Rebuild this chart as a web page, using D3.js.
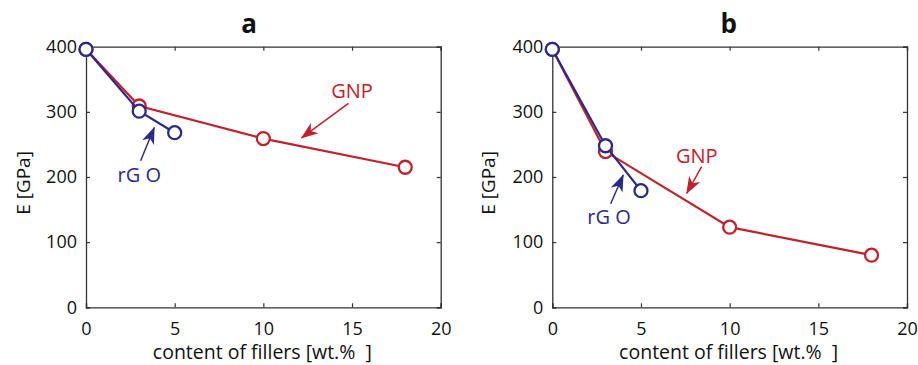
<!DOCTYPE html>
<html>
<head>
<meta charset="utf-8">
<script src="https://cdn.jsdelivr.net/npm/d3@7"></script>
<style>
  html, body { margin: 0; padding: 0; background: #fff; }
  svg { display: block; }
  text { font-family: "Open Sans", "Noto Sans", sans-serif; }
</style>
</head>
<body>
<svg id="chart" width="918" height="365"></svg>
<script>
// Filler content (wt.%) and Young's modulus E (GPa)
const gnpContent = [0, 3, 10, 18];
const rgoContent = [0, 3, 5];

const gnpModulusA = [396, 309, 259, 215];
const rgoModulusA = [396, 301, 268];

const gnpModulusB = [396, 239, 123, 80];
const rgoModulusB = [396, 248, 179];

const panelTitles = ["a", "b"];
const xTickValues = [0, 5, 10, 15, 20];
const yTickValues = [0, 100, 200, 300, 400];

// Callout labels in data units: text anchor and arrow tail -> tip
const calloutsA = [
  { label: "GNP", series: "gnp", tx: 15.0, ty: 321, x1: 14.8, y1: 313, x2: 12.15, y2: 260 },
  { label: "rG O", series: "rgo", tx: 3.0, ty: 193, x1: 3.08, y1: 225, x2: 3.85, y2: 276 }
];
const calloutsB = [
  { label: "GNP", series: "gnp", tx: 8.15, ty: 221, x1: 8.42, y1: 216, x2: 7.58, y2: 175 },
  { label: "rG O", series: "rgo", tx: 3.2, ty: 128, x1: 3.29, y1: 159, x2: 4.0, y2: 203 }
];

const RED = "#c1212d";
const BLUE = "#2b2a8a";
const colorOf = { gnp: RED, rgo: BLUE };
const FONT = "'Open Sans', 'Noto Sans', sans-serif";

const svg = d3.select("#chart");

// Notched, filled arrowheads for the callouts
const defs = svg.append("defs");
["gnp", "rgo"].forEach(k => {
  defs.append("marker")
    .attr("id", "head-" + k)
    .attr("viewBox", "0 0 10 10")
    .attr("refX", 9.5).attr("refY", 5)
    .attr("markerWidth", 11.5).attr("markerHeight", 11.5)
    .attr("markerUnits", "strokeWidth")
    .attr("orient", "auto")
    .append("path")
    .attr("d", "M0,1.3 L10,5 L0,8.7 L2.8,5 Z")
    .attr("fill", colorOf[k]);
});

const panels = [
  { title: panelTitles[0], titleAt: 9.2, left: 86, right: 440.7, gnp: gnpModulusA, rgo: rgoModulusA, callouts: calloutsA, ylabelX: 30 },
  { title: panelTitles[1], titleAt: 9.95, left: 552.3, right: 907, gnp: gnpModulusB, rgo: rgoModulusB, callouts: calloutsB, ylabelX: 495 }
];
const plotTop = 46.7, plotBottom = 307.3;

panels.forEach(p => {
  const x = d3.scaleLinear().domain([0, 20]).range([p.left, p.right]);
  const y = d3.scaleLinear().domain([0, 400]).range([plotBottom, plotTop]);
  const g = svg.append("g");

  // Axes with inward ticks on all four sides
  const tickLen = 4;
  const axes = [
    { gen: d3.axisBottom(x).tickValues(xTickValues).tickSize(-tickLen).tickPadding(15), tr: `translate(0,${plotBottom})` },
    { gen: d3.axisTop(x).tickValues(xTickValues).tickSize(-tickLen).tickFormat(""), tr: `translate(0,${plotTop})` },
    { gen: d3.axisLeft(y).tickValues(yTickValues).tickSize(-tickLen).tickPadding(9), tr: `translate(${p.left},0)` },
    { gen: d3.axisRight(y).tickValues(yTickValues).tickSize(-tickLen).tickFormat(""), tr: `translate(${p.right},0)` }
  ];
  axes.forEach(a => {
    const ax = g.append("g").attr("transform", a.tr).call(a.gen);
    ax.select(".domain").attr("stroke", "#333").attr("stroke-width", 1.3);
    ax.selectAll(".tick line").attr("stroke", "#333").attr("stroke-width", 1.2);
    ax.selectAll(".tick text").attr("font-size", 18).attr("fill", "#111")
      .attr("font-family", FONT);
  });

  // Panel title
  g.append("text")
    .attr("x", x(p.titleAt)).attr("y", 33)
    .attr("text-anchor", "middle")
    .attr("font-size", 26).attr("font-weight", "bold").attr("fill", "#111")
    .attr("font-family", "'Liberation Sans', Arial, sans-serif")
    .text(p.title);

  // Axis titles
  g.append("text")
    .attr("x", (p.left + p.right) / 2 - 1).attr("y", 359)
    .attr("text-anchor", "middle")
    .attr("font-size", 19.5).attr("fill", "#111")
    .style("white-space", "pre")
    .text("content of fillers [wt.%  ]");
  g.append("text")
    .attr("transform", `translate(${p.ylabelX},${(plotTop + plotBottom) / 2 + 6}) rotate(-90)`)
    .attr("text-anchor", "middle")
    .attr("font-size", 19).attr("fill", "#111")
    .text("E [GPa]");

  // Series: GNP drawn first, rGO on top
  const line = d3.line().x(d => x(d[0])).y(d => y(d[1]));
  [
    { key: "gnp", xs: gnpContent, ys: p.gnp },
    { key: "rgo", xs: rgoContent, ys: p.rgo }
  ].forEach(s => {
    const pts = s.xs.map((v, i) => [v, s.ys[i]]);
    g.append("path").datum(pts)
      .attr("d", line)
      .attr("fill", "none")
      .attr("stroke", colorOf[s.key])
      .attr("stroke-width", 2.2);
    g.selectAll(null).data(pts).enter().append("circle")
      .attr("cx", d => x(d[0])).attr("cy", d => y(d[1]))
      .attr("r", 6.5)
      .attr("fill", "#fff")
      .attr("stroke", colorOf[s.key])
      .attr("stroke-width", 2.3);
  });

  // Callouts
  p.callouts.forEach(c => {
    g.append("line")
      .attr("x1", x(c.x1)).attr("y1", y(c.y1))
      .attr("x2", x(c.x2)).attr("y2", y(c.y2))
      .attr("stroke", colorOf[c.series]).attr("stroke-width", 1.5)
      .attr("marker-end", `url(#head-${c.series})`);
    g.append("text")
      .attr("x", x(c.tx)).attr("y", y(c.ty))
      .attr("text-anchor", "middle")
      .attr("font-size", 20)
      .attr("fill", colorOf[c.series])
      .text(c.label);
  });
});
</script>
</body>
</html>
